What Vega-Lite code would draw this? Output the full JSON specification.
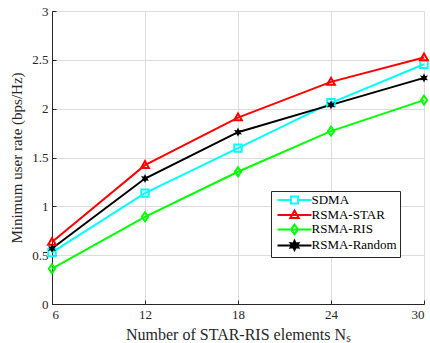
{
  "$schema": "https://vega.github.io/schema/vega-lite/v6.json",
  "width": 372,
  "height": 293,
  "autosize": {"type": "none"},
  "padding": {"left": 52, "top": 11, "right": 6, "bottom": 39},
  "background": "white",
  "config": {
    "view": {"stroke": null},
    "font": "Liberation Serif",
    "axis": {
      "labelFont": "Liberation Serif",
      "titleFont": "Liberation Serif",
      "labelFontSize": 13,
      "titleFontWeight": "normal",
      "labelColor": "#262626",
      "titleColor": "#262626",
      "domainColor": "#262626",
      "tickColor": "#262626",
      "gridColor": "#dcdcdc",
      "gridWidth": 1
    }
  },
  "data": {
    "values": [
      {"n": 6, "series": "SDMA", "rate": 0.528},
      {"n": 12, "series": "SDMA", "rate": 1.135},
      {"n": 18, "series": "SDMA", "rate": 1.596},
      {"n": 24, "series": "SDMA", "rate": 2.06},
      {"n": 30, "series": "SDMA", "rate": 2.455},
      {"n": 6, "series": "RSMA-STAR", "rate": 0.634},
      {"n": 12, "series": "RSMA-STAR", "rate": 1.422},
      {"n": 18, "series": "RSMA-STAR", "rate": 1.909},
      {"n": 24, "series": "RSMA-STAR", "rate": 2.274},
      {"n": 30, "series": "RSMA-STAR", "rate": 2.523},
      {"n": 6, "series": "RSMA-RIS", "rate": 0.361},
      {"n": 12, "series": "RSMA-RIS", "rate": 0.893},
      {"n": 18, "series": "RSMA-RIS", "rate": 1.354},
      {"n": 24, "series": "RSMA-RIS", "rate": 1.77},
      {"n": 30, "series": "RSMA-RIS", "rate": 2.087},
      {"n": 6, "series": "RSMA-Random", "rate": 0.569},
      {"n": 12, "series": "RSMA-Random", "rate": 1.285},
      {"n": 18, "series": "RSMA-Random", "rate": 1.759},
      {"n": 24, "series": "RSMA-Random", "rate": 2.039},
      {"n": 30, "series": "RSMA-Random", "rate": 2.315}
    ]
  },
  "encoding": {
    "x": {
      "field": "n",
      "type": "quantitative",
      "scale": {"domain": [6, 30], "nice": false, "zero": false},
      "axis": {
        "values": [6, 12, 18, 24, 30],
        "title": "Number of STAR-RIS elements Nₛ",
        "titleFontSize": 16,
        "tickSize": -4,
        "labelPadding": 8,
        "titlePadding": 5
      }
    },
    "y": {
      "field": "rate",
      "type": "quantitative",
      "scale": {"domain": [0, 3], "nice": false},
      "axis": {
        "values": [0, 0.5, 1, 1.5, 2, 2.5, 3],
        "format": "~g",
        "title": "Minimum user rate (bps/Hz)",
        "titleFontSize": 15,
        "tickSize": -4,
        "labelPadding": 8,
        "titlePadding": 7
      }
    }
  },
  "layer": [
    {
      "mark": {"type": "line", "strokeWidth": 2},
      "encoding": {
        "color": {
          "field": "series",
          "type": "nominal",
          "sort": ["SDMA", "RSMA-STAR", "RSMA-RIS", "RSMA-Random"],
          "scale": {
            "domain": ["SDMA", "RSMA-STAR", "RSMA-RIS", "RSMA-Random"],
            "range": ["#00ffff", "#ff0000", "#00ff00", "#000000"]
          },
          "legend": {
            "title": null,
            "orient": "none",
            "legendX": 219,
            "legendY": 180,
            "padding": 2.5,
            "fillColor": "white",
            "strokeColor": "#262626",
            "cornerRadius": 0,
            "labelFont": "Liberation Serif",
            "labelFontSize": 13,
            "labelColor": "#000000",
            "symbolSize": 64,
            "symbolStrokeWidth": 2,
            "symbolOffset": 14.5,
            "labelOffset": 10.5,
            "rowPadding": -2.6,
            "encode": {
              "symbols": {
                "update": {
                  "shape": {"signal": "datum.value == 'SDMA' ? 'M-4.25,0H-1M1,0H4.25M-0.9,-0.9H0.9V0.9H-0.9Z' : datum.value == 'RSMA-STAR' ? 'M-4.25,0H4.25M0,-1.1L1.05,0.75H-1.05Z' : datum.value == 'RSMA-RIS' ? 'M-4.25,0H4.25M0,-1.2L0.85,0L0,1.2L-0.85,0Z' : 'M-4.25,0H4.25M0,-1.1L0.28,-0.48L0.95,-0.55L0.55,0L0.95,0.55L0.28,0.48L0,1.1L-0.28,0.48L-0.95,0.55L-0.55,0L-0.95,-0.55L-0.28,-0.48Z'"},
                  "fill": {"signal": "datum.value == 'RSMA-Random' ? '#000000' : 'transparent'"},
                  "strokeWidth": {"value": 2}
                }
              }
            }
          }
        }
      }
    },
    {
      "mark": {"type": "point", "filled": false, "strokeWidth": 2, "size": 55, "opacity": 1},
      "transform": [{"filter": "datum.series != 'RSMA-Random'"}],
      "encoding": {
        "color": {"field": "series", "type": "nominal", "legend": null},
        "shape": {
          "field": "series",
          "type": "nominal",
          "scale": {
            "domain": ["SDMA", "RSMA-STAR", "RSMA-RIS"],
            "range": ["square", "M0,-1.1L1.05,0.75H-1.05Z", "M0,-1.2L0.85,0L0,1.2L-0.85,0Z"]
          },
          "legend": null
        }
      }
    },
    {
      "mark": {"type": "point", "filled": true, "strokeWidth": 1.5, "size": 70, "opacity": 1, "color": "#000000",
               "shape": "M0,-1.1L0.28,-0.48L0.95,-0.55L0.55,0L0.95,0.55L0.28,0.48L0,1.1L-0.28,0.48L-0.95,0.55L-0.55,0L-0.95,-0.55L-0.28,-0.48Z"},
      "transform": [{"filter": "datum.series == 'RSMA-Random'"}],
      "encoding": {}
    }
  ]
}
